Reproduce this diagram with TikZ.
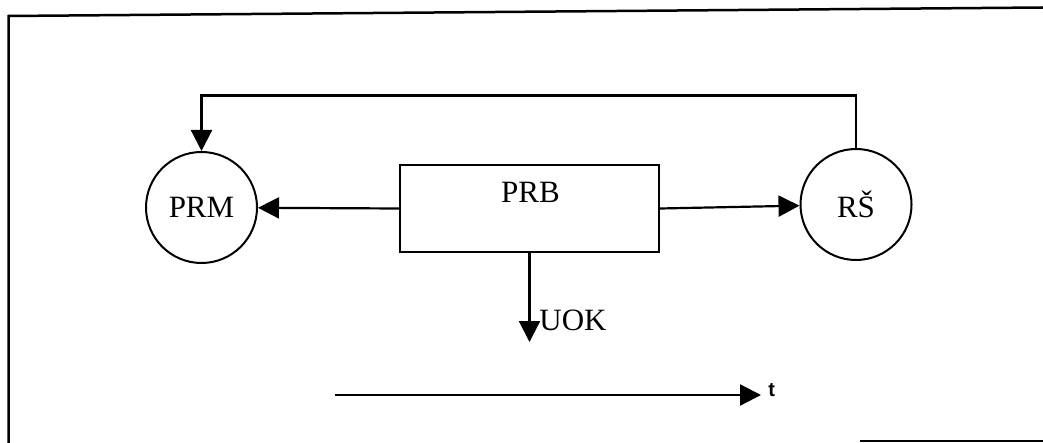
\documentclass[tikz,border=0pt]{standalone}
\usepackage{fontspec}
\setmainfont{Liberation Serif}
\newfontfamily\tsans{Liberation Sans}
\usetikzlibrary{arrows.meta}
\begin{document}
\begin{tikzpicture}[x=0.5pt,y=-0.5pt,
  lbl/.style={font=\fontsize{15.5}{18}\selectfont, inner sep=0pt},
  circ/.style={draw, circle, line width=1pt, minimum size=55.5pt, inner sep=0pt, font=\fontsize{15.5}{18}\selectfont},
  boxnode/.style={draw, rectangle, line width=1pt, minimum width=129.5pt, minimum height=43.5pt, inner sep=0pt},
  conn/.style={line width=1.1pt, -{Triangle[length=10.5pt,width=10.5pt]}},
  frame/.style={line width=1.25pt}]
\useasboundingbox (0,0) rectangle (1043,443);
% frame of the scan
\draw[frame] (8.5,443) -- (8.5,16) -- (1043,7.5);
\draw[frame] (860,441) -- (1043,441);
% nodes
\node[circ] (prm) at (201.5,207.5) {PRM};
\node[circ] (rs) at (856,204.5) {RŠ};
\node[boxnode] (prb) at (529.5,208.5) {};
\node[lbl] (prbtext) at (530.5,192.5) {PRB};
\coordinate (fb) at (530,95.5);
\coordinate (uokend) at (529.5,342);
\node[lbl, anchor=base west] (uok) at (539,330) {UOK};
\coordinate (t0) at (335,395);
\coordinate (tend) at (761,395);
\node[font=\tsans\bfseries\fontsize{10}{12}\selectfont, inner sep=0pt, anchor=base west] (tlab) at (768,396) {t};
% connectors
\draw[conn] (prb.west) -- (prm);
\draw[conn] (prb.east) -- (rs);
\draw[conn] (rs.north) |- (fb) -| (prm.north);
\draw[conn] (prb.south) -- (uokend);
\draw[conn] (t0) -- (tend);
\end{tikzpicture}
\end{document}
